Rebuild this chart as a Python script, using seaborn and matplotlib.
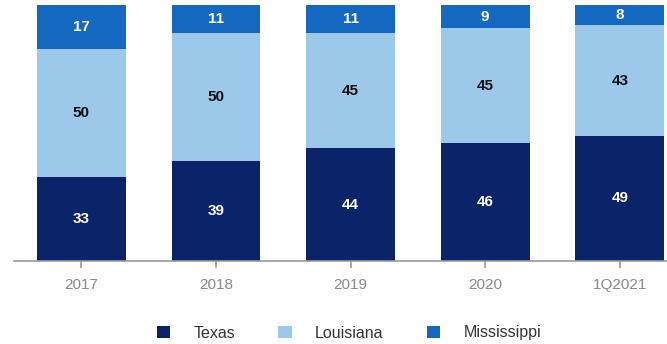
import matplotlib
matplotlib.use("Agg")
import matplotlib.pyplot as plt
from matplotlib.patches import Patch
import seaborn as sns
import pandas as pd
import numpy as np

# Share of output by state (%)
periods = ["2017", "2018", "2019", "2020", "1Q2021"]
texas = [33, 39, 44, 46, 49]
louisiana = [50, 50, 45, 45, 43]
mississippi = [17, 11, 11, 9, 8]

series = ["Texas", "Louisiana", "Mississippi"]
colors = {"Texas": "#0b2369", "Louisiana": "#9cc8ea", "Mississippi": "#1468bf"}
label_colors = {"Texas": "white", "Louisiana": "#111111", "Mississippi": "white"}

df = pd.DataFrame({"period": periods, "Texas": texas,
                   "Louisiana": louisiana, "Mississippi": mississippi})

sns.set_theme(style="white")
plt.rcParams["font.family"] = ["Liberation Sans", "DejaVu Sans"]

fig = plt.figure(figsize=(6.67, 3.44), dpi=100)
ax = fig.add_axes([14 / 667, 83 / 344, 653 / 667, 256 / 344])

bottom = np.zeros(len(periods))
for name in series:
    vals = df[name].to_numpy()
    sns.barplot(x=df["period"], y=vals, bottom=bottom, color=colors[name],
                width=0.66, saturation=1, ax=ax, linewidth=0)
    cont = ax.containers[-1]
    ax.bar_label(cont, labels=[str(v) for v in vals], label_type="center",
                 color=label_colors[name], fontsize=11, fontweight="bold")
    bottom = bottom + vals

ax.set_xlim(-0.5, 4.35)
ax.set_ylim(0, 100)
ax.set_xlabel("")
ax.set_ylabel("")
ax.set_yticks([])
for side in ["top", "right", "left"]:
    ax.spines[side].set_visible(False)
ax.spines["bottom"].set_color("#9a9a9a")
ax.spines["bottom"].set_linewidth(1.2)
ax.tick_params(axis="x", bottom=True, length=5, width=1.2, color="#9a9a9a",
               labelcolor="#8a8a8a", labelsize=11, pad=7)

handles = [Patch(facecolor=colors[n], edgecolor="none", label=n) for n in series]
fig.legend(handles=handles, loc="center", bbox_to_anchor=(0.523, 1 - 333 / 344),
           ncol=3, frameon=False, fontsize=11.5, handlelength=0.85, handleheight=0.85,
           handletextpad=1.45, columnspacing=2.7, labelcolor="#333333")

fig.savefig("out.png", dpi=100)
